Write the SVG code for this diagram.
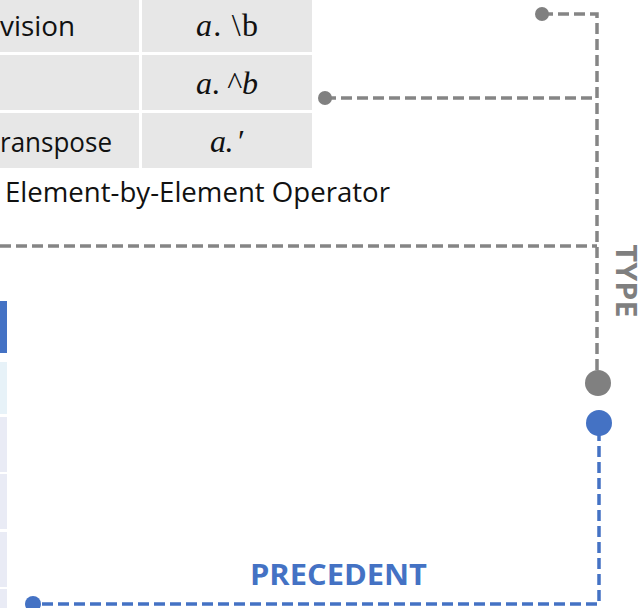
<svg xmlns="http://www.w3.org/2000/svg" width="640" height="608" viewBox="0 0 640 608">
  <style>
    .cell { fill: #e7e7e7; }
    .txt { font-family: "Open Sans", "Liberation Sans", sans-serif; font-size: 27px; fill: #111; }
    .math { font-family: "Liberation Serif", "DejaVu Serif", serif; font-size: 32px; fill: #111; }
    .gray { stroke: #858585; stroke-width: 3.5; fill: none; stroke-dasharray: 11 5; }
    .blue { stroke: #4472c4; stroke-width: 3.5; fill: none; stroke-dasharray: 11 5; }
    .dotg { fill: #808080; }
    .dotb { fill: #4472c4; }
    .lbl { font-family: "Open Sans", "Liberation Sans", sans-serif; font-weight: bold; font-size: 28px; }
  </style>

  <rect width="640" height="608" fill="#ffffff"/>

  <!-- element-by-element operator table (partially visible) -->
  <g id="elementwise-table">
    <rect class="cell" x="-10" y="-10" width="149" height="62"/>
    <rect class="cell" x="142" y="-10" width="170" height="62"/>
    <rect class="cell" x="-10" y="55" width="149" height="55"/>
    <rect class="cell" x="142" y="55" width="170" height="55"/>
    <rect class="cell" x="-10" y="113" width="149" height="55"/>
    <rect class="cell" x="142" y="113" width="170" height="55"/>
    <text class="txt" x="0" y="36" textLength="75" lengthAdjust="spacingAndGlyphs">vision</text>
    <text class="math" x="196" y="36" textLength="62"><tspan font-style="italic">a</tspan>. \b</text>
    <text class="math" x="196" y="94" textLength="62"><tspan font-style="italic">a</tspan>. ^<tspan font-style="italic">b</tspan></text>
    <text class="txt" x="0" y="152" textLength="112" lengthAdjust="spacingAndGlyphs">ransposе</text>
    <text class="math" x="210" y="152" textLength="35"><tspan font-style="italic">a</tspan>. ′</text>
    <text class="txt" x="5" y="202" textLength="385" lengthAdjust="spacingAndGlyphs">Element-by-Element Operator</text>
  </g>

  <!-- precedence table (left edge) -->
  <g id="precedence-table">
    <rect x="-10" y="301" width="17" height="52" fill="#4472c4"/>
    <rect x="-10" y="362" width="17" height="52" fill="#e7f2f8"/>
    <rect x="-10" y="417" width="17" height="55" fill="#e9ebf5"/>
    <rect x="-10" y="474" width="17" height="55" fill="#e9ebf5"/>
    <rect x="-10" y="532" width="17" height="55" fill="#e9ebf5"/>
    <rect x="-10" y="589" width="17" height="30" fill="#e9ebf5"/>
  </g>

  <!-- connectors -->
  <g id="connectors">
    <path class="gray" d="M542 14 H597 V372"/>
    <path class="gray" d="M325 98 H597"/>
    <path class="gray" d="M0 246 H597"/>
    <circle class="dotg" cx="542" cy="14" r="7"/>
    <circle class="dotg" cx="325" cy="98" r="7"/>
    <circle class="dotg" cx="598" cy="383" r="13"/>

    <path class="blue" d="M599 430 V604 H33"/>
    <circle class="dotb" cx="599" cy="423" r="13"/>
    <circle class="dotb" cx="33" cy="604" r="8"/>
  </g>

  <g id="type-label">
    <text class="lbl" fill="#7f7f7f" font-size="27" transform="translate(616,281) rotate(90)" text-anchor="middle" textLength="73" lengthAdjust="spacingAndGlyphs">TYPE</text>
  </g>

  <g id="precedent-label">
    <text class="lbl" fill="#4472c4" x="250" y="585" font-size="29" textLength="177" lengthAdjust="spacingAndGlyphs">PRECEDENT</text>
  </g>
</svg>
